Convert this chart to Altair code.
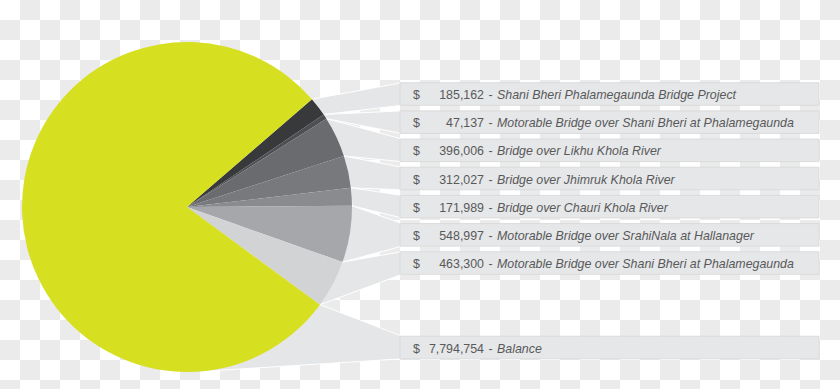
import math
import altair as alt
import pandas as pd

# ---- data ----
amounts = [185162, 47137, 396006, 312027, 171989, 548997, 463300, 7794754]
names = [
    "Shani Bheri Phalamegaunda Bridge Project",
    "Motorable Bridge over Shani Bheri at Phalamegaunda",
    "Bridge over Likhu Khola River",
    "Bridge over Jhimruk Khola River",
    "Bridge over Chauri Khola River",
    "Motorable Bridge over SrahiNala at Hallanager",
    "Motorable Bridge over Shani Bheri at Phalamegaunda",
    "Balance",
]
value_labels = ["185,162", "47,137", "396,006", "312,027", "171,989", "548,997", "463,300", "7,794,754"]
rows = [0, 1, 2, 3, 4, 5, 6, 9]
colors = ["#38393b", "#4e4f52", "#6a6b6f", "#78797d", "#8a8b8f", "#a6a7aa", "#d2d3d5", "#d7df21"]

# ---- layout constants ----
W, H = 840, 389
CX, CY, R = 187, 207, 165
START_DEG = 49.2
ROW0, ROW_STEP, HALF = 94.0, 28.17, 11.3
BAR_X0, BAR_X1 = 400, 819
BAL_END_DEG = 175.0

total = sum(amounts)
ids = list(range(len(amounts)))

df = pd.DataFrame({
    "id": ids,
    "amount": amounts,
    "name": names,
    "vlabel": value_labels,
    "row": rows,
})
df["yc"] = ROW0 + ROW_STEP * df["row"]
df["ytop"] = df["yc"] - HALF
df["ybot"] = df["yc"] + HALF
df["x0"] = BAR_X0
df["x1"] = BAR_X1

# connector polygons derived from the slice angles
def arcpt(deg):
    a = math.radians(deg)
    return CX + R * math.sin(a), CY - R * math.cos(a)

poly = []
cum = 0.0
for i, v in enumerate(amounts):
    a_s = START_DEG + 360.0 * cum / total
    cum += v
    a_e = START_DEG + 360.0 * cum / total
    if i == len(amounts) - 1:
        a_e = BAL_END_DEG
    yc = ROW0 + ROW_STEP * rows[i]
    pts = [arcpt(a_s), (BAR_X0 + 2, yc - HALF), (BAR_X0 + 2, yc + HALF), arcpt(a_e)]
    for k, (px, py) in enumerate(pts):
        poly.append({"id": i, "k": k, "px": px, "py": py})
poly_df = pd.DataFrame(poly)

xs = alt.Scale(domain=[0, W], nice=False, zero=False)
ys = alt.Scale(domain=[0, H], nice=False, zero=False, reverse=True)

# checkerboard background
checker = alt.Chart(alt.sequence(0, 42 * 20, as_="n")).transform_calculate(
    col="datum.n % 42", rw="floor(datum.n / 42)"
).transform_filter("(datum.col + datum.rw) % 2 == 1").transform_calculate(
    cx0="datum.col * 20", cx1="datum.col * 20 + 20", cy0="datum.rw * 20", cy1="datum.rw * 20 + 20"
).mark_rect(color="#ebebeb").encode(
    x=alt.X("cx0:Q", scale=xs, axis=None), x2="cx1:Q",
    y=alt.Y("cy0:Q", scale=ys, axis=None), y2="cy1:Q",
)

connectors = alt.Chart(poly_df).mark_line(
    fill="#e5e6e7", stroke="#ffffff", strokeWidth=1, interpolate="linear-closed"
).encode(
    x=alt.X("px:Q", scale=xs, axis=None),
    y=alt.Y("py:Q", scale=ys, axis=None),
    detail="id:N",
    order="k:Q",
)

pie = alt.Chart(df).mark_arc(outerRadius=R, stroke=None).encode(
    theta=alt.Theta("amount:Q", stack=True,
                    scale=alt.Scale(range=[math.radians(START_DEG), math.radians(START_DEG) + 2 * math.pi])),
    color=alt.Color("id:N", scale=alt.Scale(domain=ids, range=colors), legend=None),
    order=alt.Order("id:Q"),
    x=alt.value(CX), y=alt.value(CY),
)

bars = alt.Chart(df).mark_rect(fill="#e6e7e8", stroke="#d6d7d8", strokeWidth=0.8).encode(
    x=alt.X("x0:Q", scale=xs, axis=None), x2="x1:Q",
    y=alt.Y("ytop:Q", scale=ys, axis=None), y2="ybot:Q",
)

FONT = "Liberation Sans, Arial, sans-serif"
TXT = "#58595b"
FS = 12.4

dollar = alt.Chart(df).mark_text(align="left", baseline="middle", font=FONT, fontSize=FS, color=TXT, dy=1).encode(
    x=alt.value(413), y=alt.Y("yc:Q", scale=ys, axis=None), text=alt.value("$"),
)
vals = alt.Chart(df).mark_text(align="right", baseline="middle", font=FONT, fontSize=FS, color=TXT, dy=1).encode(
    x=alt.value(484), y=alt.Y("yc:Q", scale=ys, axis=None), text="vlabel:N",
)
dash = alt.Chart(df).mark_text(align="center", baseline="middle", font=FONT, fontSize=FS, color=TXT, dy=1).encode(
    x=alt.value(490.5), y=alt.Y("yc:Q", scale=ys, axis=None), text=alt.value("-"),
)
labels = alt.Chart(df).mark_text(align="left", baseline="middle", font=FONT, fontSize=FS, color=TXT,
                                 fontStyle="italic", dy=1).encode(
    x=alt.value(497), y=alt.Y("yc:Q", scale=ys, axis=None), text="name:N",
)

chart = alt.layer(checker, connectors, pie, bars, dollar, vals, dash, labels).properties(
    width=W, height=H, padding=0, autosize=alt.AutoSizeParams(type="none"), background="#ffffff"
).configure_view(stroke=None)

chart.save("out.html", embed_options={"renderer": "svg", "actions": False})
